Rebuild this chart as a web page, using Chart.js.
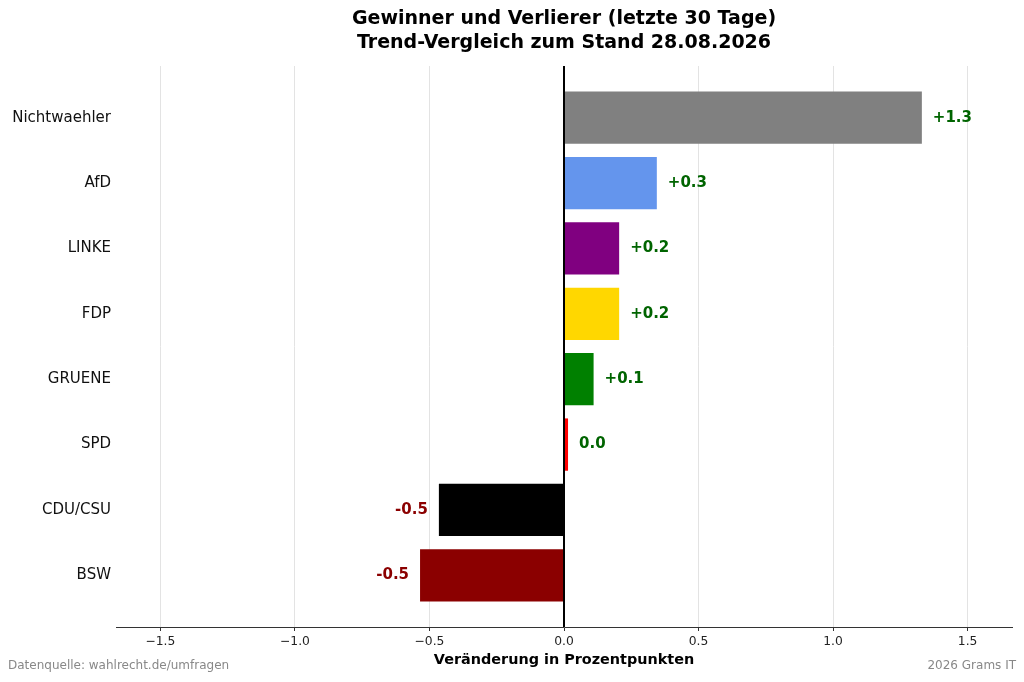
<!DOCTYPE html>
<html>
<head>
<meta charset="utf-8">
<script src="https://cdn.jsdelivr.net/npm/chart.js@4.4.1/dist/chart.umd.min.js"></script>
<style>
  html, body { margin: 0; padding: 0; background: #fff; }
  #wrap { width: 1024px; height: 682px; position: relative; }
</style>
</head>
<body>
<div id="wrap"><canvas id="barChart"></canvas></div>
<script>
// data
var parteien = ["Nichtwaehler", "AfD", "LINKE", "FDP", "GRUENE", "SPD", "CDU/CSU", "BSW"];
var veraenderung = [1.33, 0.345, 0.205, 0.205, 0.11, 0.015, -0.465, -0.535];
var farben = ["#808080", "#6495ED", "#800080", "#FFD700", "#008000", "#FF0000", "#000000", "#8B0000"];
var xTicks = [-1.5, -1.0, -0.5, 0.0, 0.5, 1.0, 1.5];

var titel1 = "Gewinner und Verlierer (letzte 30 Tage)";
var titel2 = "Trend-Vergleich zum Stand 28.08.2026";
var achsenTitel = "Veränderung in Prozentpunkten";
var quelle = "Datenquelle: wahlrecht.de/umfragen";
var copyright = "2026 Grams IT";

var FONT = "'DejaVu Sans', sans-serif";

function fmtWert(v) {
	var r = Math.round(v * 10) / 10;
	if (r > 0) return "+" + r.toFixed(1);
	return r.toFixed(1);
}

// texts, zero line and bar value labels
var extras = {
	id: "extras",
	afterDatasetsDraw: function (chart) {
		var c = chart.ctx;
		var area = chart.chartArea;
		var xs = chart.scales.x;
		var x0 = xs.getPixelForValue(0);

		// zero line
		c.save();
		c.strokeStyle = "#000";
		c.lineWidth = 2;
		c.beginPath();
		c.moveTo(x0, area.top);
		c.lineTo(x0, area.bottom);
		c.stroke();

		// value labels
		var meta = chart.getDatasetMeta(0);
		c.font = "bold 15px " + FONT;
		c.textBaseline = "middle";
		meta.data.forEach(function (bar, i) {
			var v = veraenderung[i];
			if (v >= 0) {
				c.fillStyle = "#006400";
				c.textAlign = "left";
				c.fillText(fmtWert(v), bar.x + 11, bar.y);
			} else {
				c.fillStyle = "#8B0000";
				c.textAlign = "right";
				c.fillText(fmtWert(v), bar.x - 11, bar.y);
			}
		});
		c.restore();
	},
	afterDraw: function (chart) {
		var c = chart.ctx;
		var area = chart.chartArea;
		var mitte = (area.left + area.right) / 2;
		c.save();
		c.fillStyle = "#000";
		c.textAlign = "center";
		c.textBaseline = "middle";
		c.font = "bold 19px " + FONT;
		c.fillText(titel1, mitte, 19);
		c.fillText(titel2, mitte, 43);

		c.font = "bold 14.4px " + FONT;
		c.fillText(achsenTitel, mitte, 660);

		c.font = "12px " + FONT;
		c.fillStyle = "#888";
		c.textAlign = "left";
		c.fillText(quelle, 8, 666);
		c.textAlign = "right";
		c.fillText(copyright, 1016, 666);
		c.restore();
	}
};

var punkte = veraenderung.map(function (v, i) {
	return { x: v, y: i };
});

var chart = new Chart(document.getElementById("barChart"), {
	type: "bar",
	data: {
		datasets: [{
			data: punkte,
			backgroundColor: farben,
			borderWidth: 0,
			barPercentage: 0.8,
			categoryPercentage: 1.0
		}]
	},
	options: {
		indexAxis: "y",
		responsive: true,
		maintainAspectRatio: false,
		animation: false,
		layout: { padding: { top: 66, right: 12, left: 0, bottom: 0 } },
		plugins: {
			legend: { display: false },
			tooltip: { enabled: false },
			title: { display: false }
		},
		scales: {
			x: {
				type: "linear",
				min: -1.665,
				max: 1.665,
				afterBuildTicks: function (scale) {
					scale.ticks = xTicks.map(function (t) { return { value: t }; });
				},
				afterFit: function (scale) { scale.height = 55; },
				ticks: {
					color: "#222",
					font: { family: FONT, size: 12.3 },
					padding: 3,
					maxRotation: 0,
					callback: function (v) { return Number(v).toFixed(1).replace("-", "\u2212"); }
				},
				grid: {
					color: "#e3e3e3",
					lineWidth: 1,
					tickColor: "#333",
					tickLength: 4
				},
				border: { display: true, color: "#333", width: 1 }
			},
			y: {
				type: "linear",
				reverse: true,
				offset: false,
				min: -0.79,
				max: 7.79,
				afterBuildTicks: function (scale) {
					scale.ticks = parteien.map(function (p, i) { return { value: i }; });
				},
				afterFit: function (scale) { scale.width = 116; },
				ticks: {
					color: "#111",
					font: { family: FONT, size: 15 },
					padding: 5,
					callback: function (v) { return parteien[v]; }
				},
				grid: { display: false, drawTicks: false, offset: false },
				border: { display: false }
			}
		}
	},
	plugins: [extras]
});
</script>
</body>
</html>
